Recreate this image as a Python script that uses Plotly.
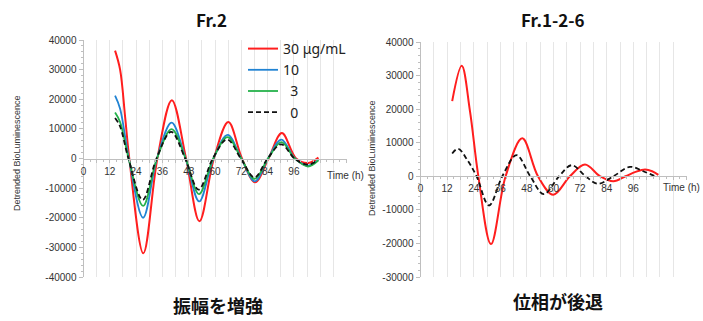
import plotly.graph_objects as go

W, H = 703, 321

# ---------------- Data: left chart (Fr.2) ----------------
t_30 = [14.4, 16.7, 19.0, 20.9, 27.3, 33.7, 40.3, 46.8, 52.9, 59.5, 66.1, 72.3, 78.3, 84.4, 90.5, 97.0, 102.6, 107.2]
v_30 = [36400, 30000, 14000, 0, -32000, 0, 19700, 0, -21200, 0, 12300, 0, -8000, 0, 8600, 0, -1500, 300]

t_10 = [14.4, 16.7, 20.7, 27.2, 33.5, 40.2, 46.6, 52.8, 59.3, 65.8, 72.0, 78.2, 84.2, 90.3, 96.5, 102.5, 107.2]
v_10 = [21200, 16800, 0, -20000, 0, 12100, 0, -14500, 0, 8000, 0, -7700, 0, 6400, 0, -2400, -400]

t_3 = [14.4, 16.7, 20.6, 27.2, 33.5, 40.2, 46.6, 52.7, 59.2, 65.7, 72.0, 78.1, 84.2, 90.3, 96.4, 102.4, 107.2]
v_3 = [15500, 12300, 0, -16000, 0, 9900, 0, -12000, 0, 7200, 0, -6900, 0, 5500, 0, -2700, -600]

t_0 = [14.4, 16.7, 20.5, 27.0, 33.3, 40.0, 46.4, 52.5, 59.0, 65.5, 71.8, 78.0, 84.0, 90.2, 96.3, 102.3, 106.8]
v_0 = [13700, 10800, 0, -14000, 0, 9000, 0, -10500, 0, 6400, 0, -6400, 0, 4800, 0, -2100, -600]

# ---------------- Data: right chart (Fr.1-2-6) ----------------
t_r_red = [14.3, 18.6, 22.3, 26.1, 31.8, 38.4, 45.9, 53.0, 59.9, 67.4, 74.2, 81.0, 87.0, 92.5, 97.0, 101.3, 104.5, 107.3]
v_r_red = [22400, 32900, 19500, 0, -20200, 0, 11300, 0, -5500, 0, 3500, 0, -1500, 0, 1300, 2000, 1500, 400]

t_r_blk = [14.3, 17.0, 21.0, 25.3, 30.9, 36.9, 43.3, 49.5, 55.6, 62.5, 68.2, 74.5, 80.0, 87.0, 94.5, 100.5, 106.5]
v_r_blk = [6800, 8200, 5000, 0, -8700, 0, 6300, 0, -5300, 0, 3300, 0, -2200, 0, 2800, 1500, -200]

# tick labels
x_tickvals = list(range(0, 121, 6))
x_ticktext = [str(v) if (v % 12 == 0 and v <= 96) else "" for v in x_tickvals]
yL_tickvals = list(range(-40000, 40001, 10000))
yL_ticktext = [str(v) for v in yL_tickvals]
yR_tickvals = list(range(-30000, 40001, 10000))
yR_ticktext = [str(v) for v in yR_tickvals]

RED = "#FF1E1E"
BLUE = "#2183D3"
GREEN = "#25B14B"
BLACK = "#111111"
DASH = "5px,3px"

fig = go.Figure()

def add(t, v, color, name, xa, ya, width=2.0, dash="solid", show=True):
    fig.add_trace(go.Scatter(
        x=t, y=v, mode="lines", name=name, showlegend=show,
        line=dict(color=color, width=width, dash=dash, shape="spline", smoothing=1.0),
        xaxis=xa, yaxis=ya, hoverinfo="skip"))

add(t_30, v_30, RED, "30 μg/mL", "x", "y", 2.0)
add(t_10, v_10, BLUE, "10", "x", "y", 1.8)
add(t_3, v_3, GREEN, "\u00a0\u00a03", "x", "y", 1.8)
add(t_0, v_0, BLACK, "\u00a0\u00a00", "x", "y", 1.8, dash=DASH)
add(t_r_red, v_r_red, RED, "red", "x2", "y2", 2.0, show=False)
add(t_r_blk, v_r_blk, BLACK, "black", "x2", "y2", 1.8, dash=DASH, show=False)

def px_x(p):
    return p / W

def px_y(p):
    return 1 - p / H

# domains
xL = [px_x(83.5), px_x(346.5)]
xR = [px_x(420.5), px_x(686.5)]
yLd = [px_y(277), px_y(40)]
yRd = [px_y(277), px_y(42)]

def zero_pos(dom, lo, hi):
    return dom[0] + (0 - lo) / (hi - lo) * (dom[1] - dom[0])

tickfont = dict(family="Liberation Sans, Arial, sans-serif", size=10, color="#333333")
axis_gray = "#BFBFBF"
grid_gray = "#E6E6E6"

xcommon = dict(
    range=[0, 120], tickmode="array", tickvals=x_tickvals, ticktext=x_ticktext,
    showgrid=True, gridcolor=grid_gray, gridwidth=1,
    showline=True, linecolor=axis_gray, linewidth=1,
    ticks="outside", ticklen=3, tickcolor=axis_gray,
    minor=dict(dtick=3, tick0=0, ticks="outside", ticklen=2, tickcolor=axis_gray, showgrid=False),
    tickfont=tickfont, zeroline=False, anchor="free", fixedrange=True, automargin=False,
)
ycommon = dict(
    showgrid=False, showline=True, linecolor=axis_gray, linewidth=1,
    ticks="outside", ticklen=4, tickcolor=axis_gray,
    minor=dict(dtick=2000, ticks="outside", ticklen=2, tickcolor=axis_gray, showgrid=False),
    tickfont=tickfont, zeroline=False, tickmode="array", fixedrange=True, automargin=False,
)

fig.update_layout(
    width=W, height=H,
    margin=dict(l=0, r=0, t=0, b=0, pad=0, autoexpand=False),
    paper_bgcolor="white", plot_bgcolor="white",
    xaxis=dict(domain=xL, position=zero_pos(yLd, -40000, 40000), **xcommon),
    yaxis=dict(domain=yLd, range=[-40000, 40000], tickvals=yL_tickvals, ticktext=yL_ticktext,
               anchor="x", **ycommon),
    xaxis2=dict(domain=xR, position=zero_pos(yRd, -30000, 40000), **xcommon),
    yaxis2=dict(domain=yRd, range=[-30000, 40000], tickvals=yR_tickvals, ticktext=yR_ticktext,
                anchor="x2", **ycommon),
    legend=dict(x=px_x(243), y=px_y(33), xanchor="left", yanchor="top",
                bgcolor="rgba(255,255,255,0)", borderwidth=0,
                font=dict(family="Noto Sans, Liberation Sans, sans-serif", size=14, color="#222222"),
                itemwidth=30, tracegroupgap=0),
    showlegend=True,
)

def note(text, x, y, font, angle=0):
    return dict(text=text, x=px_x(x), y=px_y(y), xref="paper", yref="paper",
                xanchor="center", yanchor="middle", showarrow=False,
                textangle=angle, font=font)

title_font = dict(family="Noto Sans CJK JP", size=17, color="#111111")
bottom_font = dict(family="Noto Sans CJK JP", size=18, color="#111111")
ylab_font = dict(family="Liberation Sans, Arial, sans-serif", size=9, color="#333333")
time_font = dict(family="Liberation Sans, Arial, sans-serif", size=10, color="#333333")

ann = [
    note("<b>Fr.2</b>", 212, 19, title_font),
    note("<b>Fr.1-2-6</b>", 553, 19, title_font),
    note("<b>振幅を増強</b>", 218, 305, bottom_font),
    note("<b>位相が後退</b>", 558, 301, bottom_font),
    note("Detrended BioLuminescence", 17, 153, ylab_font, -90),
    note("Detrended BioLuminescence", 372, 158, ylab_font, -90),
    note("Time (h)", 345, 176, time_font),
    note("Time (h)", 681, 188, time_font),
]
fig.update_layout(annotations=ann)

fig.write_html("out.html", config={"displayModeBar": False},
               post_script="document.body.style.margin='0px';")
